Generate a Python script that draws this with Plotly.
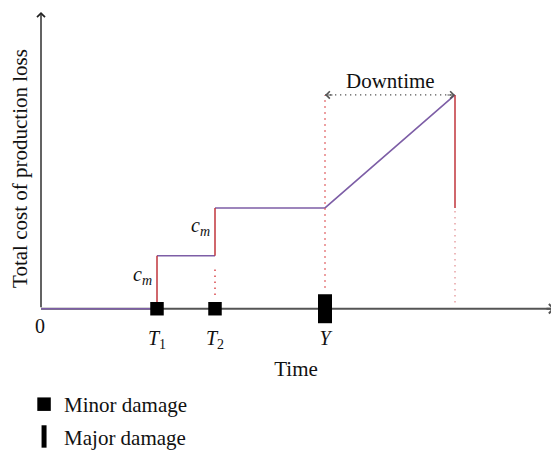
import plotly.graph_objects as go

# event times (time units)
minor_times = [2.9, 4.35]          # T1, T2
major_time = [7.1]                 # Y
repair_end = 10.35                 # end of downtime
tick_labels = ["<i>T</i><sub>1</sub>", "<i>T</i><sub>2</sub>", "<i>Y</i>"]

# cumulative cost levels
cost_levels = [0, 1.04, 1.98, 4.2]

# dotted guide lines: x, bottom, top
guide_x = [4.35, 7.1, 10.35]
guide_low = [0.27, 0.41, 0.12]
guide_high = [0.82, 4.2, 1.98]
guide_colors = ["#d9474b", "#e0575b", "#e8a3a5"]

x_end, y_end = 12.85, 5.83

PURPLE = "#7d5ea6"
RED = "#c0343b"
AXIS = "#555555"
FONT = "Liberation Serif"

t1, t2 = minor_times
ty = major_time[0]
c0, c1, c2, peak = cost_levels

fig = go.Figure()

# time axis line (drawn under the markers)
fig.add_trace(go.Scatter(x=[0, x_end], y=[0, 0], mode="lines",
                         line=dict(color=AXIS, width=2), showlegend=False))

# purple cost curve (flat parts and linear growth during downtime)
fig.add_trace(go.Scatter(
    x=[0, t1, None, t1, t2, None, t2, ty, repair_end],
    y=[c0, c0, None, c1, c1, None, c2, c2, peak],
    mode="lines", line=dict(color=PURPLE, width=1.6), showlegend=False))

# red jumps
fig.add_trace(go.Scatter(
    x=[t1, t1, None, t2, t2, None, repair_end, repair_end],
    y=[c0, c1, None, c1, c2, None, peak, c2],
    mode="lines", line=dict(color=RED, width=1.5), showlegend=False))

# dotted guides
for gx, lo, hi, col in zip(guide_x, guide_low, guide_high, guide_colors):
    fig.add_trace(go.Scatter(x=[gx, gx], y=[lo, hi], mode="lines",
                             line=dict(color=col, width=1.5, dash="1.5px,4.5px"),
                             showlegend=False))

# downtime dotted span
fig.add_trace(go.Scatter(x=[ty, repair_end], y=[peak, peak], mode="lines",
                         line=dict(color=AXIS, width=1.3, dash="1.3px,3.7px"),
                         showlegend=False))

# axis arrowheads
fig.add_annotation(x=x_end, y=0, ax=-10, ay=0, text="",
                   showarrow=True, arrowhead=4, arrowsize=0.9, arrowwidth=2,
                   arrowcolor=AXIS)
fig.add_annotation(x=0, y=y_end, ax=0, ay=0, axref="x", ayref="y", text="",
                   showarrow=True, arrowhead=4, arrowsize=1.1, arrowwidth=1.4,
                   arrowcolor="#222222")

# downtime arrowheads
fig.add_annotation(x=ty, y=peak, ax=9, ay=0, text="", showarrow=True,
                   arrowhead=4, arrowsize=1.3, arrowwidth=1.1, arrowcolor=AXIS)
fig.add_annotation(x=repair_end, y=peak, ax=-9, ay=0, text="", showarrow=True,
                   arrowhead=4, arrowsize=1.3, arrowwidth=1.1, arrowcolor=AXIS)

# damage markers
fig.add_trace(go.Scatter(x=minor_times, y=[0, 0], mode="markers", name="Minor damage",
                         marker=dict(symbol="square", size=13.5, color="black"),
                         cliponaxis=False, legendgroup="a"))
fig.add_trace(go.Scatter(x=major_time, y=[0], mode="markers", name="Major damage",
                         marker=dict(symbol="line-ns", size=20.7, color="black",
                                     line=dict(width=14, color="black")),
                         cliponaxis=False, legendgroup="b"))

# text labels
fig.add_annotation(x=(ty + repair_end) / 2, y=peak, text="Downtime", showarrow=False,
                   yshift=14, font=dict(size=21))
fig.add_annotation(x=t1, y=(c0 + c1) / 2, text="<i>c<sub>m</sub></i>", showarrow=False,
                   xanchor="right", xshift=-3, yshift=7, font=dict(size=20))
fig.add_annotation(x=t2, y=(c1 + c2) / 2, text="<i>c<sub>m</sub></i>", showarrow=False,
                   xanchor="right", xshift=-3, yshift=5, font=dict(size=20))
fig.add_annotation(x=0, y=0, text="0", showarrow=False, yshift=-17, xshift=-1,
                   font=dict(size=20))

# the page body adds an 8px margin, so the figure is 8px smaller than the window
fig.update_layout(
    width=551, height=445,
    margin=dict(l=29, r=4, t=5, b=129, autoexpand=False),
    plot_bgcolor="white", paper_bgcolor="white",
    font=dict(family=FONT, size=20, color="#111111"),
    xaxis=dict(range=[-0.1, x_end], showgrid=False, zeroline=False, showline=False,
               tickvals=[t1, t2, ty], ticktext=tick_labels, ticks="",
               ticklabelstandoff=0, automargin=False,
               title=dict(text="Time", standoff=10, font=dict(size=21))),
    yaxis=dict(range=[-0.3, 5.81], showgrid=False, zeroline=False, showline=False,
               showticklabels=False, ticks="", automargin=False,
               title=dict(text="Total cost of production loss", standoff=4,
                          font=dict(size=21))),
    legend=dict(x=-0.025, y=-0.193, xanchor="left", yanchor="top",
                tracegroupgap=2, font=dict(size=21)),
)

fig.write_html("out.html")
